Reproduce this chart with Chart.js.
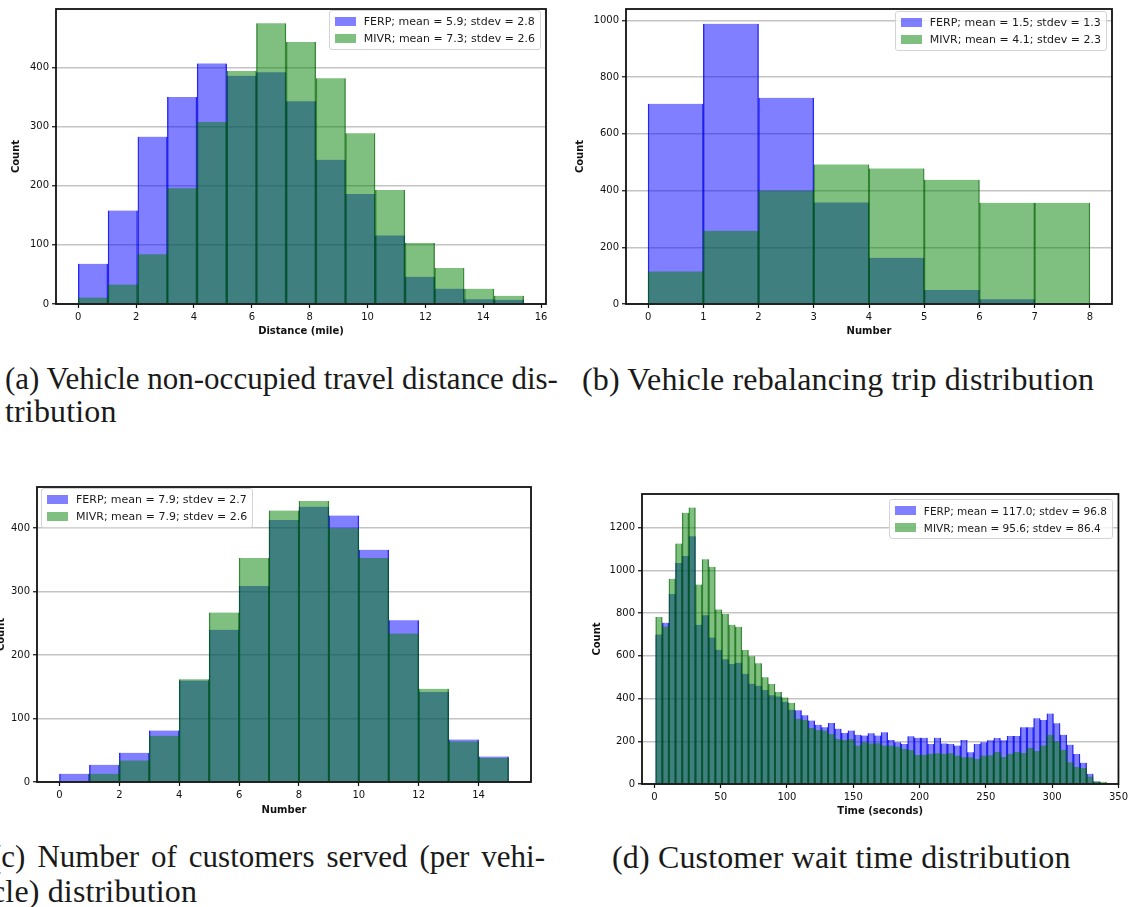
<!DOCTYPE html>
<html>
<head>
<meta charset="utf-8">
<script src="https://cdn.jsdelivr.net/npm/chart.js@4.4.1/dist/chart.umd.min.js"></script>
<style>
  html, body { margin: 0; padding: 0; background: #fff; }
  #fig { position: relative; width: 1131px; height: 907px; overflow: hidden; background: #fff; }
  .panel { position: absolute; }
  .panel canvas { position: absolute; left: 0; top: 0; }
  .legend {
    position: absolute; background: rgba(255,255,255,0.8); border: 1px solid #d4d4d4; border-radius: 3px;
    padding: 4px 5px; font: 11px 'DejaVu Sans', sans-serif; color: #1a1a1a; white-space: nowrap;
  }
  .legend .row { display: flex; align-items: center; height: 13px; }
  .legend .row + .row { margin-top: 4px; }
  .legend .sw { display: inline-block; width: 21px; height: 9px; margin-right: 8px; }
  .cap { position: absolute; font: 32px 'Liberation Serif', serif; line-height: 32px; letter-spacing: 0.15px; white-space: nowrap; color: #1a1a1a; }
  .just { font-size: 31px; letter-spacing: 0; text-align: justify; text-align-last: justify; }
</style>
</head>
<body>
<div id="fig">
  <div class="panel" style="left:0;top:0;width:560px;height:345px">
    <canvas id="chartA" width="560" height="345"></canvas>
    <div class="legend" id="legA" style="right:19px;top:10px"></div>
  </div>
  <div class="panel" style="left:570px;top:0;width:561px;height:345px">
    <canvas id="chartB" width="561" height="345"></canvas>
    <div class="legend" id="legB" style="right:24px;top:11px"></div>
  </div>
  <div class="panel" style="left:-10px;top:478px;width:570px;height:345px">
    <canvas id="chartC" width="570" height="345"></canvas>
    <div class="legend" id="legC" style="left:51px;top:10px"></div>
  </div>
  <div class="panel" style="left:575px;top:480px;width:556px;height:345px">
    <canvas id="chartD" width="556" height="345"></canvas>
    <div class="legend" id="legD" style="right:18px;top:19px;font-size:10.5px"></div>
  </div>

  <div class="cap just" style="left:5px;top:363px;width:551px">(a) Vehicle non-occupied travel distance dis-</div>
  <div class="cap" style="left:5px;top:395px">tribution</div>
  <div class="cap" style="left:582px;top:363px">(b) Vehicle rebalancing trip distribution</div>
  <div class="cap just" style="left:-9px;top:841px;width:554px">(c) Number of customers served (per vehi-</div>
  <div class="cap" style="left:-9px;top:875px">cle) distribution</div>
  <div class="cap" style="left:612px;top:841px">(d) Customer wait time distribution</div>
</div>

<script>
// (a) non-occupied travel distance
const distCenters = [0.51, 1.54, 2.57, 3.59, 4.62, 5.65, 6.67, 7.70, 8.73, 9.75, 10.78, 11.81, 12.83, 13.86, 14.89];
const distFerp = [68, 158, 283, 350, 407, 386, 392, 343, 244, 186, 116, 46, 26, 8, 7];
const distMivr = [11, 33, 84, 196, 308, 394, 475, 443, 382, 289, 193, 103, 61, 26, 14];
const distXTicks = [0, 2, 4, 6, 8, 10, 12, 14, 16];
const distYTicks = [0, 100, 200, 300, 400];
const distLabels = ['FERP; mean = 5.9; stdev = 2.8', 'MIVR; mean = 7.3; stdev = 2.6'];

// (b) rebalancing trips
const rebalCenters = [0.5, 1.5, 2.5, 3.5, 4.5, 5.5, 6.5, 7.5];
const rebalFerp = [706, 988, 727, 358, 163, 49, 17, 0];
const rebalMivr = [115, 258, 400, 492, 478, 438, 357, 357];
const rebalXTicks = [0, 1, 2, 3, 4, 5, 6, 7, 8];
const rebalYTicks = [0, 200, 400, 600, 800, 1000];
const rebalLabels = ['FERP; mean = 1.5; stdev = 1.3', 'MIVR; mean = 4.1; stdev = 2.3'];

// (c) customers served per vehicle
const servedCenters = [0.5, 1.5, 2.5, 3.5, 4.5, 5.5, 6.5, 7.5, 8.5, 9.5, 10.5, 11.5, 12.5, 13.5, 14.5];
const servedFerp = [13, 27, 46, 81, 160, 240, 309, 413, 434, 420, 366, 255, 142, 67, 40];
const servedMivr = [0, 13, 34, 73, 162, 267, 353, 428, 443, 400, 353, 234, 147, 64, 38];
const servedXTicks = [0, 2, 4, 6, 8, 10, 12, 14];
const servedYTicks = [0, 100, 200, 300, 400];
const servedLabels = ['FERP; mean = 7.9; stdev = 2.7', 'MIVR; mean = 7.9; stdev = 2.6'];

// (d) customer wait time
const waitCenters = [3.5, 8.5, 13.5, 18.5, 23.5, 28.5, 33.5, 38.5, 43.5, 48.5, 53.5, 58.5, 63.5, 68.5, 73.5, 78.5, 83.5,
  88.5, 93.5, 98.5, 103.5, 108.5, 113.5, 118.5, 123.5, 128.5, 133.5, 138.5, 143.5, 148.5, 153.5, 158.5, 163.5, 168.5,
  173.5, 178.5, 183.5, 188.5, 193.5, 198.5, 203.5, 208.5, 213.5, 218.5, 223.5, 228.5, 233.5, 238.5, 243.5, 248.5,
  253.5, 258.5, 263.5, 268.5, 273.5, 278.5, 283.5, 288.5, 293.5, 298.5, 303.5, 308.5, 313.5, 318.5, 323.5, 328.5,
  333.5, 338.5];
const waitFerp = [700, 755, 889, 1034, 1067, 1159, 745, 790, 685, 628, 584, 562, 567, 516, 469, 460, 440,
  415, 410, 385, 348, 345, 322, 297, 277, 266, 286, 259, 239, 250, 230, 227, 238, 227,
  242, 206, 195, 187, 223, 216, 216, 187, 216, 190, 187, 180, 206, 148, 187, 195,
  205, 215, 205, 225, 225, 265, 265, 308, 300, 330, 284, 230, 184, 140, 100, 48,
  12, 4];
const waitMivr = [781, 737, 961, 1125, 1269, 1294, 933, 1052, 1016, 817, 795, 745, 736, 627, 598, 565, 500,
  468, 430, 405, 380, 305, 300, 262, 253, 250, 234, 211, 206, 211, 180, 195, 190, 191,
  180, 180, 175, 164, 159, 136, 137, 141, 144, 141, 144, 133, 125, 125, 117, 133,
  134, 150, 126, 142, 150, 145, 170, 155, 180, 230, 200, 160, 102, 80, 75, 35,
  12, 10];
const waitXTicks = [0, 50, 100, 150, 200, 250, 300, 350];
const waitYTicks = [0, 200, 400, 600, 800, 1000, 1200];
const waitLabels = ['FERP; mean = 117.0; stdev = 96.8', 'MIVR; mean = 95.6; stdev = 86.4'];

const BLUE = 'rgba(0, 0, 255, 0.5)';
const BLUE_EDGE = 'rgba(0, 0, 230, 0.8)';
const GREEN = 'rgba(0, 128, 0, 0.5)';
const GREEN_EDGE = 'rgba(0, 85, 0, 0.7)';

Chart.defaults.font.family = "'DejaVu Sans', sans-serif";

// black box around the plotting area, like matplotlib spines
const frame = {
  id: 'frame',
  afterDraw(chart) {
    const { ctx, chartArea: a } = chart;
    ctx.save();
    ctx.strokeStyle = '#111';
    ctx.lineWidth = 1.8;
    ctx.strokeRect(a.left, a.top, a.right - a.left, a.bottom - a.top);
    ctx.restore();
  }
};

function histChart(id, o) {
  const ctx = document.getElementById(id).getContext('2d');
  const bars = (vals, label, bg, edge, order) => ({
    label,
    data: o.centers.map((x, i) => ({ x, y: vals[i] })),
    backgroundColor: bg,
    borderColor: edge,
    borderWidth: { left: 0.7, right: 0.7, top: 0, bottom: 0 },
    grouped: false,
    barPercentage: 1,
    categoryPercentage: 1,
    order
  });
  return new Chart(ctx, {
    type: 'bar',
    data: {
      datasets: [
        bars(o.ferp, o.labels[0], BLUE, BLUE_EDGE, 1),
        bars(o.mivr, o.labels[1], GREEN, GREEN_EDGE, 0)
      ]
    },
    options: {
      responsive: false,
      animation: false,
      devicePixelRatio: 1,
      layout: { padding: { left: 0, top: o.padT, right: o.padR, bottom: 0 } },
      plugins: { legend: { display: false }, tooltip: { enabled: false } },
      scales: {
        x: {
          type: 'linear',
          min: o.xMin,
          max: o.xMax,
          offset: false,
          afterBuildTicks: ax => { ax.ticks = o.xTicks.map(v => ({ value: v })); },
          afterFit: ax => { ax.height = 41; },
          grid: { offset: false, drawOnChartArea: false, drawTicks: true, tickLength: 4, tickColor: '#111', tickWidth: 1.2 },
          border: { display: false },
          ticks: { color: '#111', font: { size: 10 }, padding: 3, maxRotation: 0, autoSkip: false, callback: v => String(v) },
          title: { display: true, text: o.xTitle, color: '#111', font: { size: 10, weight: 'bold' }, padding: { top: 0, bottom: o.xTitlePad } }
        },
        y: {
          min: 0,
          max: o.yMax,
          afterBuildTicks: ax => { ax.ticks = o.yTicks.map(v => ({ value: v })); },
          afterFit: ax => { ax.width = o.yAxisW; },
          grid: { color: '#c4c4c4', lineWidth: 1.5, drawTicks: true, tickLength: 4, tickColor: '#111', tickWidth: 1.2 },
          border: { display: false },
          ticks: { color: '#111', font: { size: 10 }, padding: 3, callback: v => String(v) },
          title: { display: true, text: 'Count', color: '#111', font: { size: 10, weight: 'bold' }, padding: { top: o.yTitlePad, bottom: 0 } }
        }
      }
    },
    plugins: [frame]
  });
}

function buildLegend(chart, elId) {
  const el = document.getElementById(elId);
  chart.data.datasets.forEach(ds => {
    const row = document.createElement('div');
    row.className = 'row';
    const sw = document.createElement('span');
    sw.className = 'sw';
    sw.style.background = ds.backgroundColor;
    const tx = document.createElement('span');
    tx.textContent = ds.label;
    row.append(sw, tx);
    el.append(row);
  });
}

const chartA = histChart('chartA', {
  centers: distCenters, ferp: distFerp, mivr: distMivr, labels: distLabels,
  xTicks: distXTicks, yTicks: distYTicks, xMin: -0.77, xMax: 16.17, yMax: 499,
  xTitle: 'Distance (mile)', padT: 6, padR: 14, yAxisW: 56, yTitlePad: 10, xTitlePad: 8
});
const chartB = histChart('chartB', {
  centers: rebalCenters, ferp: rebalFerp, mivr: rebalMivr, labels: rebalLabels,
  xTicks: rebalXTicks, yTicks: rebalYTicks, xMin: -0.4, xMax: 8.4, yMax: 1040,
  xTitle: 'Number', padT: 7, padR: 19, yAxisW: 56, yTitlePad: 4, xTitlePad: 8
});
const chartC = histChart('chartC', {
  centers: servedCenters, ferp: servedFerp, mivr: servedMivr, labels: servedLabels,
  xTicks: servedXTicks, yTicks: servedYTicks, xMin: -0.75, xMax: 15.75, yMax: 465,
  xTitle: 'Number', padT: 5, padR: 29, yAxisW: 47, yTitlePad: 5, xTitlePad: 7
});
const chartD = histChart('chartD', {
  centers: waitCenters, ferp: waitFerp, mivr: waitMivr, labels: waitLabels,
  xTicks: waitXTicks, yTicks: waitYTicks, xMin: -9.3, xMax: 350, yMax: 1357,
  xTitle: 'Time (seconds)', padT: 14, padR: 12, yAxisW: 67, yTitlePad: 16, xTitlePad: 8
});

buildLegend(chartA, 'legA');
buildLegend(chartB, 'legB');
buildLegend(chartC, 'legC');
buildLegend(chartD, 'legD');
</script>
</body>
</html>
